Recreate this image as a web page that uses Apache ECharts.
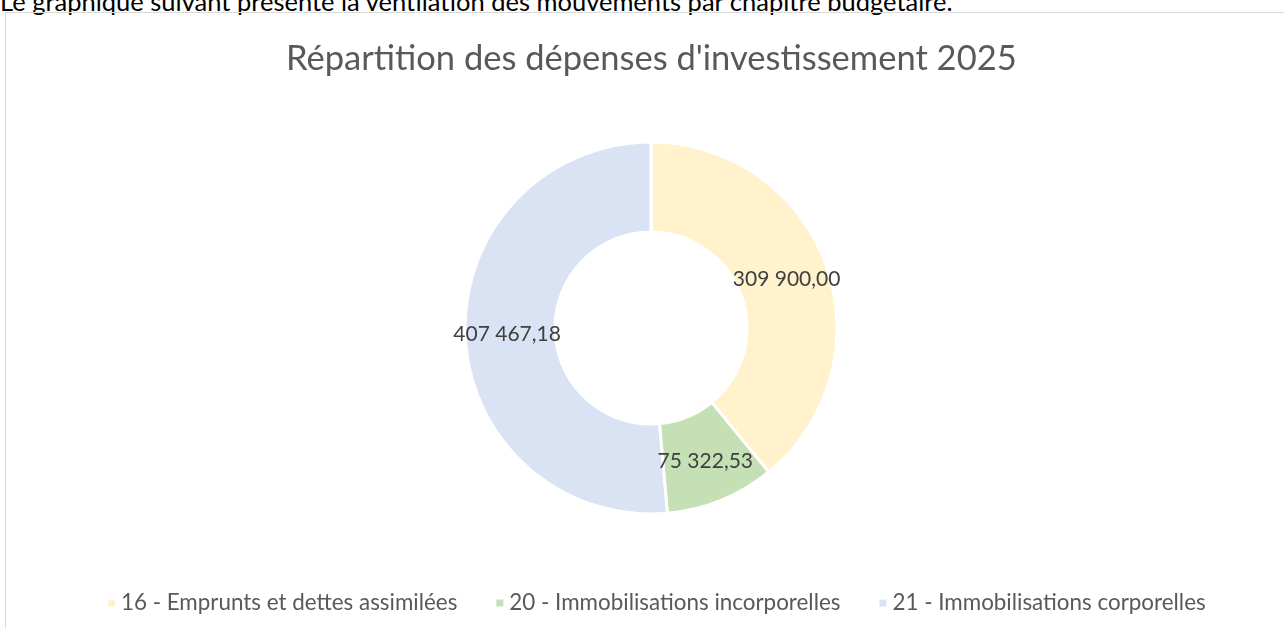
<!DOCTYPE html>
<html>
<head>
<meta charset="utf-8">
<script src="https://cdn.jsdelivr.net/npm/echarts@6/dist/echarts.min.js"></script>
<style>
    html, body { margin: 0; padding: 0; background: #fff; overflow: hidden; }
    body { width: 1284px; height: 628px; position: relative; }
    #intro {
        position: absolute; left: 0; top: -14px;
        font-family: Lato, sans-serif; font-size: 25.5px; line-height: 30px;
        color: #000; white-space: nowrap;
    }
    #frame {
        position: absolute; left: 5px; top: 12px; width: 1300px; height: 640px;
        border: 1px solid #d9d9d9; box-sizing: border-box;
    }
    #chart { position: absolute; left: 0; top: 0; width: 1284px; height: 628px; }
</style>
</head>
<body>
<div id="intro">Le graphique suivant présente la ventilation des mouvements par chapitre budgétaire.</div>
<div id="frame"></div>
<div id="chart"></div>
<script>
(function() {
    "use strict";

    // chapters and amounts (EUR)
    var chapters = ['16 - Emprunts et dettes assimilées', '20 - Immobilisations incorporelles', '21 - Immobilisations corporelles'];
    var amounts = [309900.00, 75322.53, 407467.18];
    var colors = ['#fff2cc', '#c5e0b4', '#dae3f3'];

    // french number format: 309 900,00
    function frNumber(v) {
        var parts = v.toFixed(2).split('.');
        var intPart = parts[0].replace(/\B(?=(\d{3})+(?!\d))/g, ' ');
        return intPart + ',' + parts[1];
    }

    var pieChart = echarts.init(document.getElementById('chart'));

    var option = {
        // Title
        title: {
            text: "Répartition des dépenses d'investissement 2025",
            left: 281,
            top: 36,
            textStyle: {
                fontFamily: 'Lato',
                fontSize: 34.5,
                fontWeight: 'normal',
                color: '#595959'
            }
        },

        // Legend
        legend: {
            data: chapters,
            top: 587,
            left: 101,
            icon: 'rect',
            itemWidth: 9,
            itemHeight: 9,
            itemGap: 37,
            textStyle: {
                fontFamily: 'Lato',
                fontSize: 22.4,
                color: '#595959'
            }
        },

        color: colors,

        series: [{
            type: 'pie',
            center: [651, 328],
            radius: [96, 186],
            startAngle: 90,
            clockwise: true,
            avoidLabelOverlap: false,
            itemStyle: {
                borderColor: '#fff',
                borderWidth: 3
            },
            label: {
                show: true,
                position: 'inside',
                fontFamily: 'Lato',
                fontSize: 21,
                color: '#404040',
                formatter: function(p) { return frNumber(p.value); }
            },
            labelLine: { show: false },
            emphasis: { disabled: true },
            data: chapters.map(function(name, i) {
                return { name: name, value: amounts[i] };
            })
        }]
    };

    pieChart.setOption(option);
})();
</script>
</body>
</html>
